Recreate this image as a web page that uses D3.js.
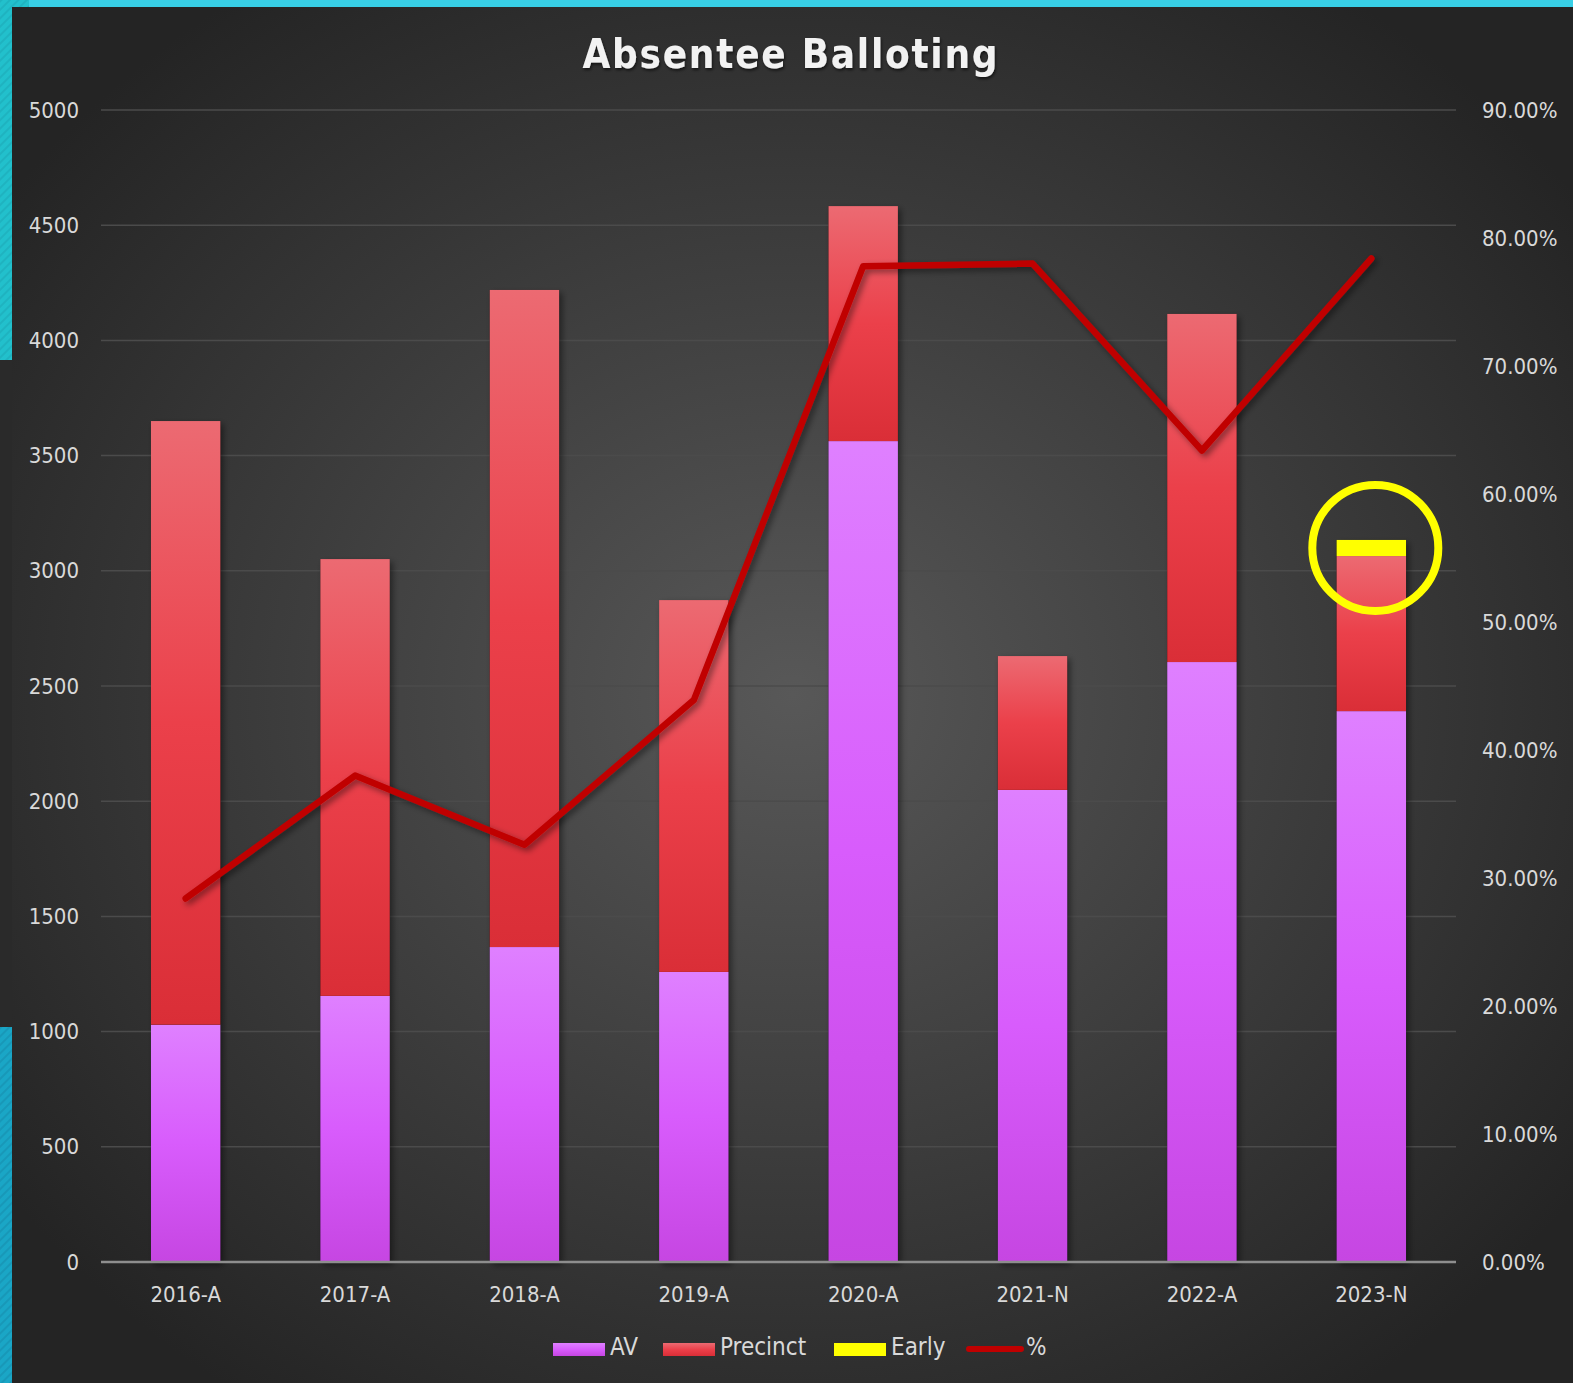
<!DOCTYPE html>
<html><head><meta charset="utf-8">
<script src="https://cdn.jsdelivr.net/npm/d3@7"></script>
<style>html,body{margin:0;padding:0;background:#2a2a2a;overflow:hidden}</style>
</head><body>
<svg id="c" width="1573" height="1383"></svg>
<script>
const categories = ["2016-A","2017-A","2018-A","2019-A","2020-A","2021-N","2022-A","2023-N"];
const av       = [1030, 1155, 1367, 1259, 3563, 2049, 2604, 2391];
const precinct = [2620, 1896, 2852, 1614, 1020,  581, 1511,  673];
const early    = [   0,    0,    0,    0,    0,    0,    0,   70];
const pct      = [0.284, 0.380, 0.326, 0.439, 0.778, 0.780, 0.634, 0.784];
const leftTicks  = [0,500,1000,1500,2000,2500,3000,3500,4000,4500,5000];
const rightTicks = [0,0.1,0.2,0.3,0.4,0.5,0.6,0.7,0.8,0.9];
const seriesNames = ["AV","Precinct","Early","%"];

const W = 1573, H = 1383;
const svg = d3.select("#c");
const defs = svg.append("defs");

const bg = defs.append("radialGradient").attr("id","bg").attr("cx","50%").attr("cy","50%").attr("r","62%");
bg.append("stop").attr("offset","0%").attr("stop-color","#585858");
bg.append("stop").attr("offset","100%").attr("stop-color","#242424");
const pat = defs.append("pattern").attr("id","stripe").attr("width",6).attr("height",6)
  .attr("patternUnits","userSpaceOnUse").attr("patternTransform","rotate(45)");
pat.append("rect").attr("width",6).attr("height",6).attr("fill","#22c0cc");
pat.append("rect").attr("width",2).attr("height",6).attr("fill","#1fb3c0");
const pat2 = defs.append("pattern").attr("id","stripe2").attr("width",6).attr("height",6)
  .attr("patternUnits","userSpaceOnUse").attr("patternTransform","rotate(45)");
pat2.append("rect").attr("width",6).attr("height",6).attr("fill","#1aa6c6");
pat2.append("rect").attr("width",2).attr("height",6).attr("fill","#1898b8");

function vgrad(id, stops){
  const g = defs.append("linearGradient").attr("id",id).attr("x1",0).attr("y1",0).attr("x2",0).attr("y2",1);
  stops.forEach(s=>g.append("stop").attr("offset",s[0]).attr("stop-color",s[1]));
}
vgrad("gAV", [["0%","#df80ff"],["50%","#d85cfc"],["100%","#c646e2"]]);
vgrad("gPR", [["0%","#ec6a72"],["50%","#eb404a"],["100%","#da2e37"]]);
vgrad("gEA", [["0%","#ffff00"],["100%","#ffff00"]]);

const sh = defs.append("filter").attr("id","shadow").attr("x","-20%").attr("y","-20%").attr("width","140%").attr("height","140%");
sh.append("feDropShadow").attr("dx",3).attr("dy",3).attr("stdDeviation",3).attr("flood-color","#000").attr("flood-opacity",0.45);
const tsh = defs.append("filter").attr("id","tshadow");
tsh.append("feDropShadow").attr("dx",1).attr("dy",2).attr("stdDeviation",1.5).attr("flood-color","#000").attr("flood-opacity",0.6);

svg.append("rect").attr("x",0).attr("y",0).attr("width",W).attr("height",H).attr("fill","#2a2a2a");
svg.append("rect").attr("x",0).attr("y",0).attr("width",12).attr("height",360).attr("fill","url(#stripe)");
svg.append("rect").attr("x",0).attr("y",1027).attr("width",12).attr("height",H-1027).attr("fill","url(#stripe2)");
svg.append("rect").attr("x",0).attr("y",0).attr("width",29).attr("height",7).attr("fill","url(#stripe)");
svg.append("rect").attr("x",29).attr("y",0).attr("width",W-29).attr("height",7).attr("fill","#38cfe6");
svg.append("rect").attr("x",12).attr("y",7).attr("width",W-12).attr("height",H-7).attr("fill","url(#bg)");

const m = {l:101, r:1456, t:110, b:1262};
const x = d3.scaleBand().domain(categories).range([m.l, m.r]).paddingInner(0.59).paddingOuter(0.295);
const y = d3.scaleLinear().domain([0,5000]).range([m.b, m.t]);
const y2 = d3.scaleLinear().domain([0,0.9]).range([m.b, m.t]);

const font = "'DejaVu Sans Condensed','DejaVu Sans',sans-serif";

svg.append("g").selectAll("line").data(leftTicks.filter(d=>d>0)).join("line")
  .attr("x1",m.l).attr("x2",m.r).attr("y1",d=>y(d)).attr("y2",d=>y(d))
  .attr("stroke","#4b4b4b").attr("stroke-width",1.5);

const la = svg.append("g").attr("transform",`translate(${m.l},0)`)
  .call(d3.axisLeft(y).tickValues(leftTicks).tickSize(0).tickPadding(22).tickFormat(d3.format("d")));
la.select(".domain").remove();
la.selectAll("text").attr("fill","#d9d9d9").style("font-family",font).style("font-size","22px");

const ra = svg.append("g").attr("transform",`translate(${m.r},0)`)
  .call(d3.axisRight(y2).tickValues(rightTicks).tickSize(0).tickPadding(26).tickFormat(d3.format(".2%")));
ra.select(".domain").remove();
ra.selectAll("text").attr("fill","#d9d9d9").style("font-family",font).style("font-size","22px");

const rows = categories.map((c,i)=>({cat:c, AV:av[i], Precinct:precinct[i], Early:early[i]}));
const stack = d3.stack().keys(["AV","Precinct","Early"])(rows);
const fills = {AV:"url(#gAV)", Precinct:"url(#gPR)", Early:"url(#gEA)"};
const barG = svg.append("g");
barG.selectAll("rect.sh").data(rows).join("rect").attr("class","sh")
  .attr("x",d=>x(d.cat)).attr("width",x.bandwidth())
  .attr("y",d=>y(d.AV+d.Precinct+d.Early)).attr("height",d=>y(0)-y(d.AV+d.Precinct+d.Early))
  .attr("fill","#000").attr("filter","url(#shadow)");
stack.forEach(s=>{
  barG.append("g").selectAll("rect").data(s.filter(d=>d[1]-d[0]>0)).join("rect")
    .attr("x",d=>x(d.data.cat)).attr("width",x.bandwidth())
    .attr("y",d=>y(d[1])).attr("height",d=>y(d[0])-y(d[1]))
    .attr("fill",fills[s.key]);
});

svg.append("line").attr("x1",m.l).attr("x2",m.r).attr("y1",y(0)).attr("y2",y(0))
  .attr("stroke","#8e8e8e").attr("stroke-width",2.5);

const xa = svg.append("g").attr("transform",`translate(0,${m.b})`)
  .call(d3.axisBottom(x).tickSize(0).tickPadding(24));
xa.select(".domain").remove();
xa.selectAll("text").attr("fill","#d9d9d9").style("font-family",font).style("font-size","22px");

const line = d3.line().x((d,i)=>x(categories[i])+x.bandwidth()/2).y(d=>y2(d));
svg.append("path").datum(pct).attr("d",line).attr("fill","none")
  .attr("stroke","#c00000").attr("stroke-width",6.5).attr("stroke-linecap","round").attr("stroke-linejoin","round")
  .attr("filter","url(#shadow)");

const last = rows[rows.length-1];
svg.append("circle")
  .attr("cx", x(last.cat)+x.bandwidth()/2+4)
  .attr("cy", y(last.AV+last.Precinct+last.Early)+8)
  .attr("r",63).attr("fill","none").attr("stroke","#ffff00").attr("stroke-width",8);

svg.append("text").attr("x",790).attr("y",68).attr("text-anchor","middle")
  .attr("fill","#f2f2f2").attr("filter","url(#tshadow)")
  .attr("textLength",415).attr("lengthAdjust","spacing")
  .style("font-family",font).style("font-weight","bold").style("font-size","40px")
  .text("Absentee Balloting");

const lg = svg.append("g").style("font-family",font).style("font-size","24px");
const lx = [553, 663, 834, 966];
seriesNames.forEach((n,i)=>{
  if(i<3){
    lg.append("rect").attr("x",lx[i]).attr("y",1343).attr("width",52).attr("height",13).attr("fill",[ "url(#gAV)","url(#gPR)","#ffff00"][i]);
  } else {
    lg.append("line").attr("x1",lx[i]+3).attr("x2",lx[i]+55).attr("y1",1349).attr("y2",1349)
      .attr("stroke","#c00000").attr("stroke-width",6).attr("stroke-linecap","round");
  }
  lg.append("text").attr("x",lx[i]+(i<3?57:60)).attr("y",1355).attr("fill","#d9d9d9").text(n);
});
</script>
</body></html>
